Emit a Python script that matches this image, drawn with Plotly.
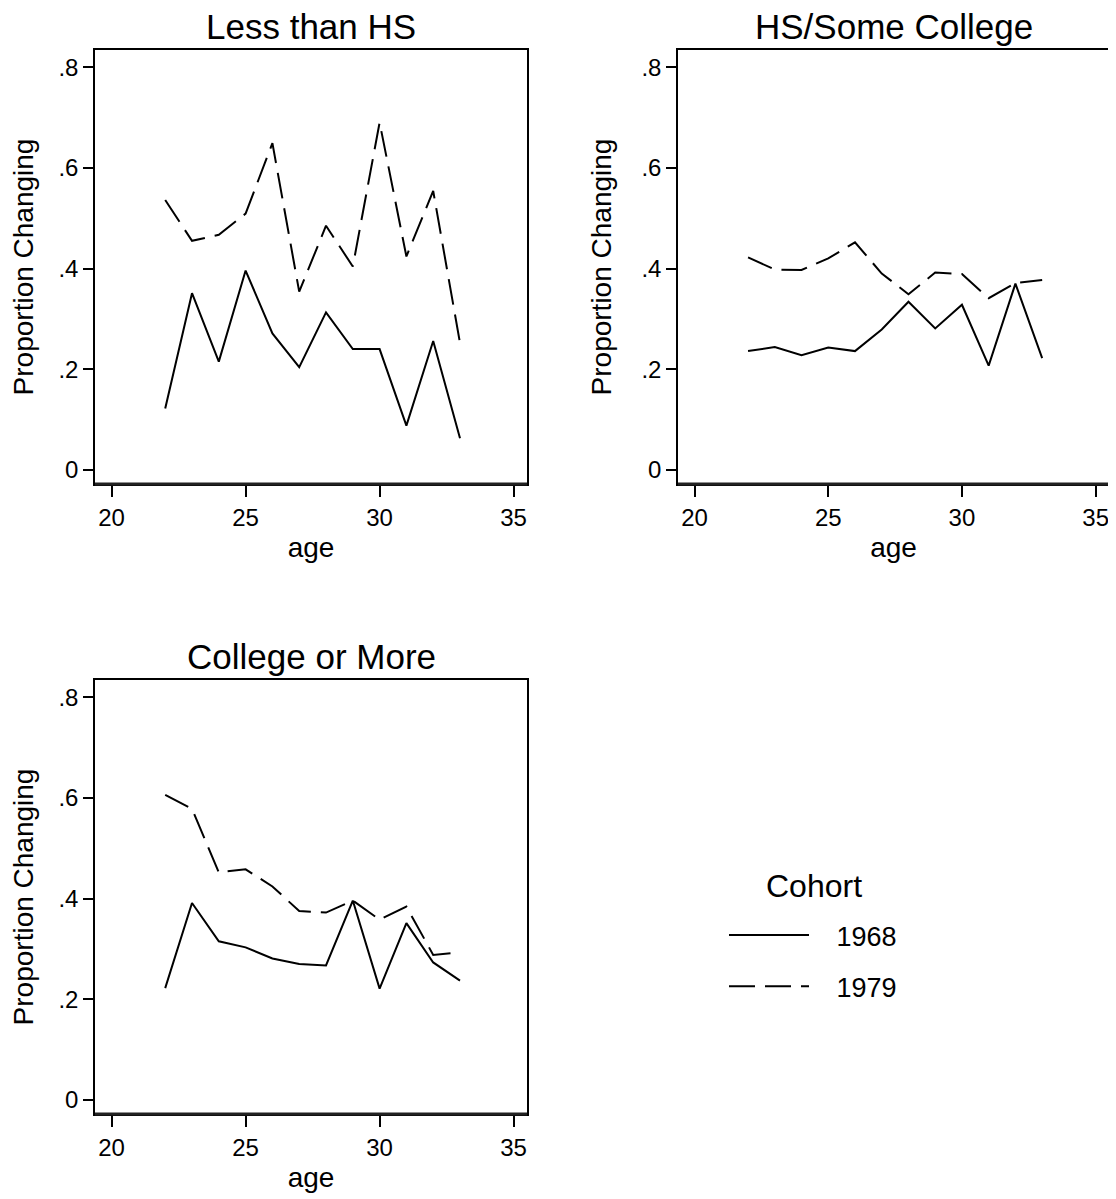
import plotly.graph_objects as go

# ---- data ----
ages = [22, 23, 24, 25, 26, 27, 28, 29, 30, 31, 32, 33]
cohorts = ["1968", "1979"]
panel_titles = ["Less than HS", "HS/Some College", "College or More"]

lths_1968 = [0.122, 0.351, 0.215, 0.396, 0.271, 0.204, 0.313, 0.240, 0.240, 0.088, 0.256, 0.063]
lths_1979 = [0.536, 0.455, 0.467, 0.509, 0.649, 0.354, 0.485, 0.404, 0.690, 0.424, 0.554, 0.252]
hs_1968 = [0.236, 0.244, 0.228, 0.243, 0.236, 0.279, 0.334, 0.281, 0.328, 0.207, 0.370, 0.222]
hs_1979 = [0.422, 0.398, 0.397, 0.420, 0.452, 0.390, 0.349, 0.392, 0.389, 0.341, 0.371, 0.377]
col_1968 = [0.222, 0.391, 0.315, 0.303, 0.281, 0.270, 0.267, 0.396, 0.221, 0.351, 0.273, 0.237]
col_1979 = [0.606, 0.578, 0.452, 0.458, 0.424, 0.375, 0.372, 0.396, 0.358, 0.384, 0.288, 0.293]

y_tickvals = [0, 0.2, 0.4, 0.6, 0.8]
y_ticktext = ["0", ".2", ".4", ".6", ".8"]
x_tickvals = [20, 25, 30, 35]
x_ticktext = ["20", "25", "30", "35"]

FONT = "Liberation Sans, Arial, Helvetica, sans-serif"
OFF = 8  # page body margin
W, H = 1116 - OFF, 1199 - OFF

def fx(px):
    return (px - OFF) / W

def fy(py):
    return 1 - (py - OFF) / H

panels = [
    (lths_1968, lths_1979, "x", "y"),
    (hs_1968, hs_1979, "x2", "y2"),
    (col_1968, col_1979, "x3", "y3"),
]

fig = go.Figure()
dash_style = "26px,10px"
pad = "\u00a0\u00a0\u00a0"
for i, (s68, s79, xa, ya) in enumerate(panels):
    fig.add_trace(go.Scatter(
        x=ages, y=s68, mode="lines", name=pad + cohorts[0], xaxis=xa, yaxis=ya,
        line=dict(color="black", width=2), showlegend=(i == 0), legendgroup="a"))
    fig.add_trace(go.Scatter(
        x=ages, y=s79, mode="lines", name=pad + cohorts[1], xaxis=xa, yaxis=ya,
        line=dict(color="black", width=2, dash=dash_style), showlegend=(i == 0), legendgroup="b"))

domains = [
    ([fx(95), fx(527)], [fy(484), fy(50)]),
    ([fx(678), fx(1109)], [fy(484), fy(50)]),
    ([fx(95), fx(527)], [fy(1114), fy(680)]),
]

xr = [19.38, 35.5]
yr = [-0.028, 0.834]

layout = dict(
    width=W, height=H,
    margin=dict(l=0, r=0, t=0, b=0),
    paper_bgcolor="white", plot_bgcolor="white",
    font=dict(family=FONT, color="black"),
    showlegend=True,
    legend=dict(
        x=fx(724), y=fy(911), xanchor="left", yanchor="top",
        font=dict(size=27, family=FONT), tracegroupgap=13,
        bgcolor="rgba(0,0,0,0)", itemwidth=80,
    ),
)

shapes = []
annotations = []
for i, (dx, dy) in enumerate(domains):
    sfx = "" if i == 0 else str(i + 1)
    layout["xaxis" + sfx] = dict(
        domain=dx, range=xr, anchor="y" + sfx,
        tickvals=x_tickvals, ticktext=x_ticktext,
        ticks="outside", ticklen=11, tickwidth=1.5, tickcolor="black",
        tickfont=dict(size=24), showgrid=False, zeroline=False,
        showline=True, linecolor="black", linewidth=1.5, mirror=True,
        title=dict(text="age", font=dict(size=28), standoff=8),
    )
    layout["yaxis" + sfx] = dict(
        domain=dy, range=yr, anchor="x" + sfx,
        tickvals=y_tickvals, ticktext=y_ticktext,
        ticks="outside", ticklen=10, tickwidth=1.5, tickcolor="black",
        tickfont=dict(size=24), showgrid=False, zeroline=False,
        showline=True, linecolor="black", linewidth=1.5, mirror=True,
        title=dict(text="Proportion Changing", font=dict(size=28), standoff=22),
    )
    shapes.append(dict(type="line", xref="x%s domain" % sfx, yref="y%s domain" % sfx,
                       x0=0, x1=1, y0=0, y1=0, line=dict(color="#222", width=3)))

title_centers_y = [27, 27, 656]
for i, (dx, dy) in enumerate(domains):
    annotations.append(dict(
        text=panel_titles[i], xref="paper", yref="paper",
        x=(dx[0] + dx[1]) / 2, y=fy(title_centers_y[i]), xanchor="center", yanchor="middle",
        showarrow=False, font=dict(size=35, family=FONT, color="black")))

annotations.append(dict(
    text="Cohort", xref="paper", yref="paper", x=fx(814), y=fy(886),
    xanchor="center", yanchor="middle", showarrow=False,
    font=dict(size=32, family=FONT, color="black")))

layout["shapes"] = shapes
layout["annotations"] = annotations
fig.update_layout(**layout)

fig.write_html("out.html")
